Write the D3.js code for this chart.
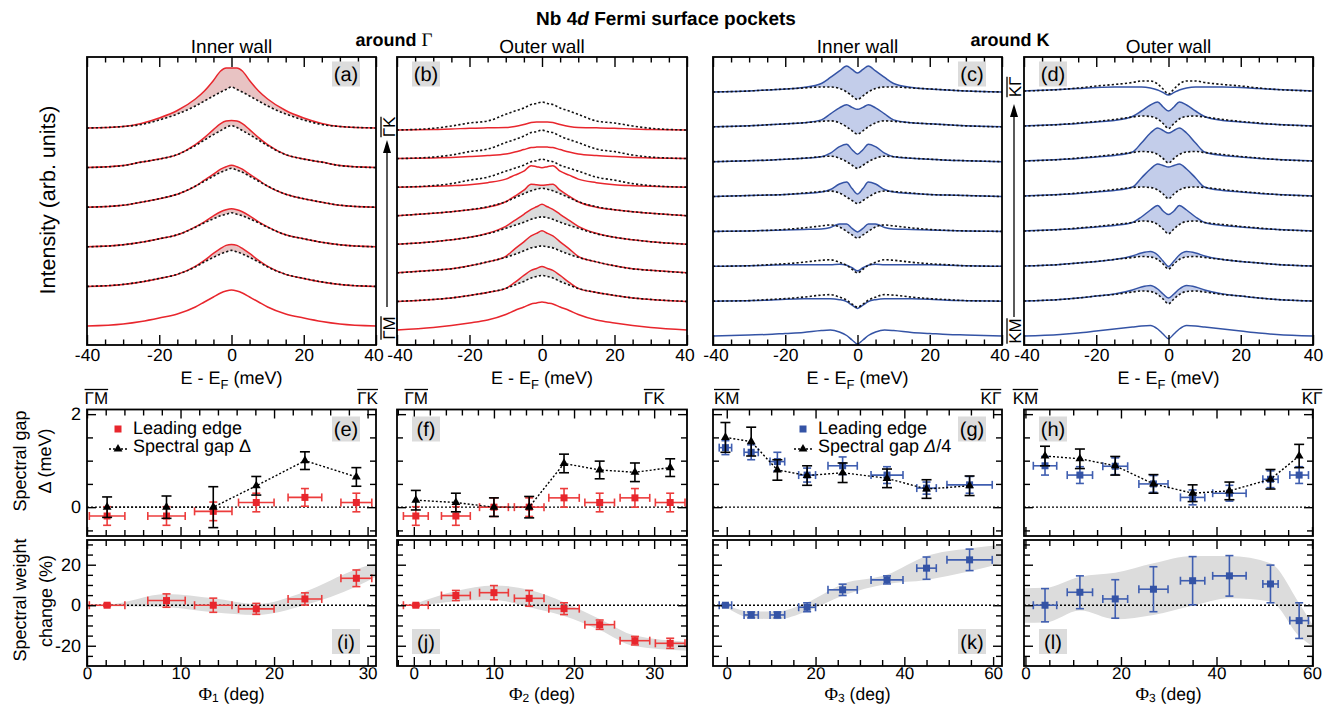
<!DOCTYPE html>
<html>
<head>
<meta charset="utf-8">
<script src="https://cdn.jsdelivr.net/npm/d3@7"></script>
<style>
  body { margin: 0; background: #fff; }
  svg { display: block; }
</style>
</head>
<body>
<script>
// ======================= data =======================
// Symmetrized EDCs: intensities (arb. units, relative to the E = ±40 meV tail)
// listed on the E >= 0 half of the energy grid; curves are listed bottom to top.
const energyGrid = [0, 1.5, 3, 5, 7.5, 10, 15, 20, 25, 30, 40];

// (a) inner wall around Γ — superconducting (solid) / normal state (dotted)
const edcInnerGammaSC = [
  [36, 35, 33, 29, 24, 19, 12, 8, 4.5, 2, 0],
  [42, 41, 38, 33, 26, 20, 12, 8, 4.5, 2, 0],
  [38, 37, 35, 31, 25, 20, 12, 8, 4.5, 2, 0],
  [42, 40.5, 38, 33, 27, 21, 13, 8.5, 5, 2, 0],
  [47, 46.5, 44, 38, 30, 23, 13, 8.5, 5.5, 2, 0],
  [60, 60, 57, 47.5, 37, 29, 17.5, 10, 4.5, 1.5, 0]
];
const edcInnerGammaN = [
  null,
  [36, 34.5, 32.5, 29, 24.5, 19.5, 12, 8, 4.5, 2, 0],
  [34, 32.5, 31, 28, 24, 19.5, 12, 8, 4.5, 2, 0],
  [39, 37, 35, 31, 26, 21, 13, 8.5, 5, 2, 0],
  [42, 40, 37, 33, 27.5, 22, 13, 8.5, 5.5, 2, 0],
  [41, 38.5, 36, 32, 27, 22, 14, 8, 3.5, 1.5, 0]
];

// (b) outer wall around Γ
const edcOuterGammaSC = [
  [28, 27, 26, 23, 19.5, 15.5, 10, 7, 4.5, 2.5, 0],
  [35, 33, 31, 26, 19, 13, 9, 6, 3.5, 2, 0],
  [42, 39.5, 37, 31, 24, 16.5, 11, 7, 4, 2.5, 0],
  [40, 37.5, 35, 30, 24, 18, 11, 7, 4.5, 2.5, 0],
  [30.5, 31, 31.5, 25.5, 19.5, 14, 8.5, 6, 4, 2.5, 0],
  [19.5, 20.5, 21.5, 16, 12, 8, 4.5, 2.5, 1.5, 0.8, 0],
  [11.7, 11.5, 11, 9, 6.5, 4.5, 3, 2, 1.2, 0.7, 0],
  [8, 8, 7.5, 5.5, 3.5, 2.5, 2.2, 1.8, 1, 0.5, 0]
];
const edcOuterGammaN = [
  null,
  [26, 25, 23.5, 20, 16.5, 13, 9, 6, 3.5, 2, 0],
  [27, 26, 25, 22, 18.5, 15.5, 11, 7, 4, 2.5, 0],
  [27.5, 26.5, 25, 22, 19, 16, 10.5, 7, 4.5, 2.5, 0],
  [27.5, 26.5, 25, 22, 18, 14, 9, 6, 4, 2.5, 0],
  [28, 26.5, 25.5, 22, 19, 16, 10, 7, 3.5, 1.5, 0],
  [28.5, 27, 26, 22.5, 19, 16, 9.5, 7, 3.5, 1.5, 0],
  [28, 26.5, 25.5, 22, 19, 15.7, 9, 7, 4, 1.7, 0]
];

// (c) inner wall around K
const edcInnerKSC = [
  [-8, -4, 0.5, 4, 6, 5.5, 3.5, 2.5, 1.5, 1, 0],
  [-7.3, -4, -0.5, 1.5, 2.5, 2.5, 2.5, 2, 1, 0.5, 0],
  [-4.5, -1.5, 1, 2, 1.5, 1.5, 1.5, 1.5, 1, 0.5, 0],
  [-0.5, 3, 7.5, 7.5, 4, 2.5, 2, 1.5, 1, 0.5, 0],
  [2.5, 8, 14.5, 12.5, 7, 4.5, 3, 2, 1.5, 1, 0],
  [7.5, 12, 17.5, 15, 8.5, 5, 3.5, 2.5, 1.5, 1, 0],
  [17.5, 19.5, 22, 19, 13, 7, 4, 3, 2, 1, 0],
  [19, 22.5, 26, 21, 14.5, 8.5, 4.5, 3, 2, 1, 0]
];
const edcInnerKN = [
  null,
  [-6, -3, 1, 4, 6.5, 6, 4, 2.5, 1.5, 0.5, 0],
  [-6.5, -3, 1, 4, 6.5, 6, 4, 2.5, 1.5, 0.5, 0],
  [-6.7, -3.5, 0, 4.5, 6.5, 5.5, 3.5, 2, 1, 0.5, 0],
  [-7, -4, -0.5, 3.5, 5.5, 5, 3.5, 2, 1.5, 1, 0],
  [-6.7, -3.5, 0, 3.5, 5.5, 5, 3.5, 2.5, 1.5, 1, 0],
  [-7.3, -4, 0, 4, 6, 5.5, 4, 3, 2, 1, 0],
  [-7.5, -4, 0, 3.5, 5, 5, 4, 3, 2, 1, 0]
];

// (d) outer wall around K
const edcOuterKSC = [
  [-2.7, 2, 7, 10.5, 10, 9, 7, 5, 3, 1.5, 0],
  [3, 7, 12, 15.5, 14, 11, 7, 5, 3, 1.5, 0],
  [-0.5, 5, 11, 14.5, 13, 10, 6.5, 4.5, 3, 1.5, 0],
  [16.5, 20, 25.5, 21, 14, 8.5, 5.5, 4, 2.5, 1.5, 0],
  [29, 30.5, 32, 27, 18, 9, 5.5, 4, 2.5, 1.5, 0],
  [28, 30.5, 33, 28, 18, 9, 5.5, 4, 2.5, 1.5, 0],
  [15, 19, 24, 21, 15, 9.5, 5.5, 4, 2.5, 1.5, 0],
  [-4, -1.5, 1, 3, 4, 4, 4, 3.5, 2.5, 1.5, 0]
];
const edcOuterKN = [
  null,
  [-2.7, 2, 6.5, 9.5, 10, 9, 6.5, 5, 3, 1.5, 0],
  [-3, 2, 6.5, 9, 9.5, 8.5, 6.5, 4.5, 3, 1.5, 0],
  [-2.7, 2, 6.5, 9.5, 10, 8.5, 6.5, 4.5, 3, 1.5, 0],
  [-2.7, 2, 6, 8.5, 9, 8.5, 6.5, 4.5, 3, 1.5, 0],
  [-2, 2.5, 6.5, 9, 9.5, 8.5, 6.5, 4.5, 3, 1.5, 0],
  [-2.5, 2.5, 7, 9.5, 10, 9, 6.5, 4.5, 3, 1.5, 0],
  [-3, 2, 7, 10, 10, 8.5, 6.5, 5, 3, 1.5, 0]
];

// (e)/(i) inner wall around Γ versus Φ1
const phi1 = [2.15, 8.5, 13.5, 18.1, 23.3, 28.8];
const phi1Err = [1.9, 2.0, 2.0, 1.9, 1.8, 1.65];
const leadEdge1 = [-0.19, -0.19, -0.09, 0.1, 0.21, 0.1];
const leadEdge1Err = [0.2, 0.2, 0.2, 0.2, 0.19, 0.2];
const gap1 = [0, 0, 0, 0.46, 1.0, 0.65];
const gap1Err = [0.22, 0.24, 0.44, 0.2, 0.19, 0.2];
const weight1 = [0, 2.3, 0, -1.8, 3.1, 13.3];
const weight1Err = [0.6, 3.3, 3.5, 2.7, 3.0, 4.1];
const band1Phi = [0.8, 2.15, 8.5, 13.5, 18.1, 23.3, 28.8, 30.9];
const band1Hi = [0.5, 0.5, 5.6, 3.4, 0.6, 6.7, 17.8, 20.7];
const band1Lo = [-0.5, -0.5, -1.0, -3.5, -4.8, 0.1, 9.2, 14.1];

// (f)/(j) outer wall around Γ versus Φ2
const phi2 = [0.25, 5.25, 10, 14.4, 18.75, 23.2, 27.6, 32];
const phi2Err = [1.55, 1.8, 1.8, 1.85, 1.9, 1.85, 1.85, 1.85];
const leadEdge2 = [-0.19, -0.19, 0, 0, 0.2, 0.1, 0.2, 0.1];
const leadEdge2Err = [0.2, 0.2, 0.2, 0.2, 0.2, 0.2, 0.2, 0.2];
const gap2 = [0.15, 0.1, 0, 0, 0.94, 0.8, 0.75, 0.85];
const gap2Err = [0.21, 0.2, 0.2, 0.23, 0.2, 0.19, 0.2, 0.19];
const weight2 = [0, 4.8, 6.2, 3.4, -1.7, -9.6, -17.5, -18.8];
const weight2Err = [0.6, 2.5, 3.5, 3.9, 2.9, 2.3, 2.1, 2.5];
const band2Phi = [0.25, 5.25, 10, 14.4, 18.75, 23.2, 27.6, 34.1];
const band2Hi = [0.8, 7, 9.8, 7.6, 1.5, -6.8, -15, -18];
const band2Lo = [-0.8, 2, 2.6, -1, -5.3, -12.2, -20.3, -22.5];

// (g)/(k) inner wall around K versus Φ3 (gap plotted as Δ/4)
const phi3In = [-0.3, 5.5, 11.4, 18.1, 26.1, 36.1, 45, 54.7];
const phi3InErr = [1.4, 1.6, 1.65, 1.9, 3.3, 3.6, 2.2, 5.1];
const leadEdge3In = [1.28, 1.18, 0.98, 0.69, 0.89, 0.69, 0.41, 0.48];
const leadEdge3InErr = [0.15, 0.16, 0.2, 0.15, 0.19, 0.18, 0.13, 0.18];
const gapQuarter3In = [1.5, 1.41, 0.8, 0.68, 0.74, 0.62, 0.39, 0.46];
const gapQuarter3InErr = [0.32, 0.31, 0.22, 0.21, 0.21, 0.2, 0.2, 0.21];
const weight3In = [0, -4.8, -4.8, -1, 7.6, 12.5, 18.3, 22.4];
const weight3InErr = [0.6, 1.5, 1.5, 2.2, 2.8, 2, 5.5, 5.3];
const band3InPhi = [-0.45, 5.6, 11.4, 18, 26.2, 36, 45, 54.5, 62];
const band3InHi = [0.5, -3.1, -3.1, 1.3, 10.5, 15, 24.3, 28, 29.8];
const band3InLo = [-0.5, -6.4, -6.9, -3.1, 4.8, 10.5, 12.5, 16.6, 20.7];

// (h)/(l) outer wall around K versus Φ3
const phi3Out = [4.1, 11.4, 18.8, 26.8, 35.0, 42.7, 51.3, 57.3];
const phi3OutErr = [2.45, 2.65, 2.6, 3.05, 2.55, 3.5, 1.6, 1.95];
const leadEdge3Out = [0.89, 0.69, 0.88, 0.5, 0.21, 0.3, 0.6, 0.69];
const leadEdge3OutErr = [0.2, 0.18, 0.18, 0.18, 0.16, 0.17, 0.18, 0.18];
const gap3Out = [1.1, 1.04, 0.89, 0.5, 0.3, 0.35, 0.6, 1.1];
const gap3OutErr = [0.21, 0.21, 0.2, 0.2, 0.18, 0.19, 0.21, 0.25];
const weight3Out = [0, 6.4, 3.1, 7.9, 12.1, 14.5, 10.5, -7.6];
const weight3OutErr = [8.2, 8.1, 9.5, 11.1, 11.9, 10, 9.3, 8.8];
const band3OutPhi = [-0.3, 4.1, 11.4, 18.8, 26.8, 35.0, 42.7, 51.3, 57.3, 60.2];
const band3OutHi = [8.4, 8.6, 14.1, 16, 20.7, 24.3, 24.3, 20.7, 1, -10];
const band3OutLo = [-8.6, -8.5, -2.6, -6.9, -4.8, -0.3, 3.4, 1.8, -15.2, -20.4];

// Axis tick values
const energyTicksMajor = [-40, -20, 0, 20, 40];
const energyTicksMinor = d3.range(-35, 40, 5).filter(v => v % 20 !== 0);
const gapTicksMajor = [0, 2];
const gapTicksMinor = [-0.5, 0.5, 1, 1.5];
const weightTicksMajor = [-20, 0, 20];
const weightTicksMinor = [-25, -15, -10, -5, 5, 10, 15, 25, 30];

// ======================= styling =======================
const FONT = "'Liberation Sans', Arial, Helvetica, sans-serif";
const SERIF = "'Liberation Serif', 'Times New Roman', serif";
const RED = "#e8262d", RED_ERR = "#ec3c3c", RED_FILL = "#e8c3c3";
const BLUE = "#3453a5", BLUE_ERR = "#3f5eb0", BLUE_FILL = "#c3cdea";
const GREY = "#dcdcdc";

const svg = d3.select("body").append("svg")
  .attr("width", 1331).attr("height", 705)
  .attr("font-family", FONT)
  .attr("text-rendering", "geometricPrecision");

const cols = [[87, 376], [397, 687], [713, 1002], [1024, 1313]];
const TOP = [57, 345], MID = [409.5, 536], BOT = [540, 666];

// mirror the E >= 0 half onto negative energies
function symmetrize(vals) {
  const pos = energyGrid.map((e, i) => [e, vals[i]]);
  const neg = pos.slice(1).map(([e, v]) => [-e, v]).reverse();
  return neg.concat(pos);
}

function styleAxis(a, fontSize) {
  a.select(".domain").remove();
  a.attr("font-family", FONT).attr("font-size", fontSize || 18);
  a.selectAll(".tick line").attr("stroke", "#000").attr("stroke-width", 1.4);
  a.selectAll(".tick text").attr("fill", "#000");
  return a;
}

function hAxis(scale, y, side, ticks, len, labels, pad, fontSize) {
  const ax = (side === "bottom" ? d3.axisBottom(scale) : d3.axisTop(scale))
    .tickValues(ticks).tickSizeInner(-len).tickSizeOuter(0).tickPadding(pad == null ? 5 : pad)
    .tickFormat(labels ? (d => String(d)) : "");
  const a = svg.append("g").attr("transform", `translate(0,${y})`).call(ax);
  return styleAxis(a, fontSize);
}

function vAxis(scale, x, side, ticks, len, labels) {
  const ax = (side === "left" ? d3.axisLeft(scale) : d3.axisRight(scale))
    .tickValues(ticks).tickSizeInner(-len).tickSizeOuter(0).tickPadding(6)
    .tickFormat(labels ? (d => String(d)) : "");
  const a = svg.append("g").attr("transform", `translate(${x},0)`).call(ax);
  return styleAxis(a);
}

function frame(x0, x1, y0, y1) {
  svg.append("rect").attr("x", x0).attr("y", y0)
    .attr("width", x1 - x0).attr("height", y1 - y0)
    .attr("fill", "none").attr("stroke", "#000").attr("stroke-width", 1.8);
}

function tag(x, y, txt) {
  svg.append("rect").attr("x", x).attr("y", y).attr("width", 28).attr("height", 25).attr("fill", GREY);
  svg.append("text").attr("x", x + 14).attr("y", y + 19.5).attr("text-anchor", "middle")
    .attr("font-size", 20).text(txt);
}

// text with a bar over it (high-symmetry directions)
function barLabel(x, y, txt, rotated) {
  const g = svg.append("g")
    .attr("transform", `translate(${x},${y})` + (rotated ? " rotate(-90)" : ""));
  const t = g.append("text").attr("text-anchor", "middle").attr("font-size", 17).text(txt);
  const w = t.node().getComputedTextLength();
  g.append("line").attr("x1", -w / 2).attr("x2", w / 2).attr("y1", -14).attr("y2", -14)
    .attr("stroke", "#000").attr("stroke-width", 1.3);
}

function energyLabel(cx) {
  const t = svg.append("text").attr("x", cx).attr("y", 383.5).attr("text-anchor", "middle").attr("font-size", 18);
  t.append("tspan").text("E - E");
  t.append("tspan").attr("font-size", 13).attr("dy", 5).text("F");
  t.append("tspan").attr("dy", -5).text(" (meV)");
}

function phiLabel(cx, sub) {
  const t = svg.append("text").attr("x", cx).attr("y", 699.5).attr("text-anchor", "middle").attr("font-size", 17.5);
  t.append("tspan").attr("font-family", SERIF).attr("font-size", 18.5).text("Φ");
  t.append("tspan").attr("font-size", 12).attr("dy", 2.5).text(sub);
  t.append("tspan").attr("dy", -2.5).text(" (deg)");
}

// ======================= EDC stacks =======================
const topPanels = [
  { col: 0, sc: edcInnerGammaSC, n: edcInnerGammaN, color: RED, fill: RED_FILL, base: 19, step: 39.6, title: "Inner wall", tag: "(a)", tagRight: true },
  { col: 1, sc: edcOuterGammaSC, n: edcOuterGammaN, color: RED, fill: GREY, base: 15, step: 28.57, title: "Outer wall", tag: "(b)", tagRight: false },
  { col: 2, sc: edcInnerKSC, n: edcInnerKN, color: BLUE, fill: BLUE_FILL, base: 9, step: 34.86, title: "Inner wall", tag: "(c)", tagRight: true },
  { col: 3, sc: edcOuterKSC, n: edcOuterKN, color: BLUE, fill: BLUE_FILL, base: 9, step: 35, title: "Outer wall", tag: "(d)", tagRight: false }
];

topPanels.forEach(p => {
  const [x0, x1] = cols[p.col];
  const x = d3.scaleLinear().domain([-40, 40]).range([x0, x1]);
  const y = d3.scaleLinear().domain([0, 288]).range([TOP[1], TOP[0]]);
  const g = svg.append("g");
  const line = d3.line().x(d => x(d[0])).y(d => y(d[1])).curve(d3.curveMonotoneX);
  const area = d3.area().x(d => x(d.e)).y0(d => y(d.lo)).y1(d => y(d.hi)).curve(d3.curveMonotoneX);

  p.sc.forEach((vals, k) => {
    const off = p.base + k * p.step;
    const sc = symmetrize(vals).map(([e, v]) => [e, v + off]);
    let nrm = null;
    if (p.n[k]) {
      nrm = symmetrize(p.n[k]).map(([e, v]) => [e, v + off]);
      const rows = sc.map((d, i) => ({ e: d[0], lo: nrm[i][1], hi: Math.max(d[1], nrm[i][1]) }));
      g.append("path").attr("d", area(rows)).attr("fill", p.fill);
    }
    g.append("path").attr("d", line(sc)).attr("fill", "none")
      .attr("stroke", p.color).attr("stroke-width", 1.5);
    if (nrm) {
      g.append("path").attr("d", line(nrm)).attr("fill", "none")
        .attr("stroke", "#111").attr("stroke-width", 1.6).attr("stroke-dasharray", "2.2,2.2");
    }
  });

  hAxis(x, TOP[1], "bottom", energyTicksMinor, 5.5, false);
  const lab = hAxis(x, TOP[1], "bottom", energyTicksMajor, 10, true, 4, 17.5);
  // keep the end labels of neighbouring panels apart
  lab.selectAll(".tick text").attr("dx", d => (d === 40 && p.col < 3) ? -2.5 : (d === -40 && p.col > 0) ? 2.5 : 0);
  hAxis(x, TOP[0], "top", energyTicksMinor, 5.5, false);
  hAxis(x, TOP[0], "top", energyTicksMajor, 10, false);
  frame(x0, x1, TOP[0], TOP[1]);

  tag(p.tagRight ? x1 - 44 : x0 + 15, TOP[0] + 4.5, p.tag);
  svg.append("text").attr("x", (x0 + x1) / 2).attr("y", 53).attr("text-anchor", "middle")
    .attr("font-size", 19).text(p.title);
  energyLabel((x0 + x1) / 2);
});

// momentum-direction arrows between the EDC stacks
function dirArrow(x, yTail, yTip) {
  svg.append("line").attr("x1", x).attr("x2", x).attr("y1", yTail).attr("y2", yTip + 10)
    .attr("stroke", "#000").attr("stroke-width", 1.3);
  svg.append("path").attr("d", `M${x},${yTip} L${x - 4},${yTip + 13} L${x + 4},${yTip + 13} Z`).attr("fill", "#000");
}
dirArrow(387, 307, 140);
barLabel(395, 127, "ΓK", true);
barLabel(395, 328, "ΓM", true);
dirArrow(1014, 317, 104);
barLabel(1021, 87, "KΓ", true);
barLabel(1021, 331, "KM", true);

// ======================= gap and spectral-weight panels =======================
const gapY = d3.scaleLinear().domain([-0.62, 2.1]).range([MID[1], MID[0]]);
const wY = d3.scaleLinear().domain([-30, 32.2]).range([BOT[1], BOT[0]]);

const lowerPanels = [
  { col: 0, dom: [0, 30.9], minor: d3.range(2, 31, 2).filter(v => v % 10), major: [0, 10, 20, 30], sub: "1",
    phi: phi1, dphi: phi1Err, lead: leadEdge1, dlead: leadEdge1Err, gap: gap1, dgap: gap1Err,
    w: weight1, dw: weight1Err, bandPhi: band1Phi, bandHi: band1Hi, bandLo: band1Lo,
    color: RED, errColor: RED_ERR, ends: ["ΓM", "ΓK"], endPhi: [1, 30], tags: ["(e)", "(i)"], tagRight: [true, true] },
  { col: 1, dom: [-2.1, 34.1], minor: d3.range(-2, 35, 2).filter(v => v % 10), major: [0, 10, 20, 30], sub: "2",
    phi: phi2, dphi: phi2Err, lead: leadEdge2, dlead: leadEdge2Err, gap: gap2, dgap: gap2Err,
    w: weight2, dw: weight2Err, bandPhi: band2Phi, bandHi: band2Hi, bandLo: band2Lo,
    color: RED, errColor: RED_ERR, ends: ["ΓM", "ΓK"], endPhi: [0.3, 30], tags: ["(f)", "(j)"], tagRight: [false, false] },
  { col: 2, dom: [-3.1, 62], minor: d3.range(5, 61, 5).filter(v => v % 20), major: [0, 20, 40, 60], sub: "3",
    phi: phi3In, dphi: phi3InErr, lead: leadEdge3In, dlead: leadEdge3InErr, gap: gapQuarter3In, dgap: gapQuarter3InErr,
    w: weight3In, dw: weight3InErr, bandPhi: band3InPhi, bandHi: band3InHi, bandLo: band3InLo,
    color: BLUE, errColor: BLUE_ERR, ends: ["KM", "KΓ"], endPhi: [0, 59.5], tags: ["(g)", "(k)"], tagRight: [true, true] },
  { col: 3, dom: [-0.3, 60.2], minor: d3.range(5, 61, 5).filter(v => v % 20), major: [0, 20, 40, 60], sub: "3",
    phi: phi3Out, dphi: phi3OutErr, lead: leadEdge3Out, dlead: leadEdge3OutErr, gap: gap3Out, dgap: gap3OutErr,
    w: weight3Out, dw: weight3OutErr, bandPhi: band3OutPhi, bandHi: band3OutHi, bandLo: band3OutLo,
    color: BLUE, errColor: BLUE_ERR, ends: ["KM", "KΓ"], endPhi: [0, 60], tags: ["(h)", "(l)"], tagRight: [false, false] }
];

function errorBars(g, x, y, xs, vs, dvs, dxs, color, capV, capH, width) {
  xs.forEach((px, i) => {
    const cx = x(px), cy = y(vs[i]);
    if (dvs) {
      const y1 = y(vs[i] - dvs[i]), y2 = y(vs[i] + dvs[i]);
      g.append("line").attr("x1", cx).attr("x2", cx).attr("y1", y1).attr("y2", y2);
      [y1, y2].forEach(yy => g.append("line").attr("x1", cx - capV).attr("x2", cx + capV).attr("y1", yy).attr("y2", yy));
    }
    if (dxs) {
      const x1 = x(px - dxs[i]), x2 = x(px + dxs[i]);
      g.append("line").attr("x1", x1).attr("x2", x2).attr("y1", cy).attr("y2", cy);
      [x1, x2].forEach(xx => g.append("line").attr("x1", xx).attr("x2", xx).attr("y1", cy - capH).attr("y2", cy + capH));
    }
  });
  g.selectAll("line").attr("stroke", color).attr("stroke-width", width);
}

function squares(g, x, y, xs, vs, color, size) {
  g.selectAll(null).data(xs).join("rect")
    .attr("x", (d) => x(d) - size / 2).attr("y", (d, i) => y(vs[i]) - size / 2)
    .attr("width", size).attr("height", size).attr("fill", color);
}

const triangle = d3.symbol().type(d3.symbolTriangle).size(34);

lowerPanels.forEach(p => {
  const [x0, x1] = cols[p.col];
  const x = d3.scaleLinear().domain(p.dom).range([x0, x1]);
  const clipId = "clip" + p.col;
  svg.append("clipPath").attr("id", clipId).append("rect")
    .attr("x", x0).attr("y", BOT[0]).attr("width", x1 - x0).attr("height", BOT[1] - BOT[0]);

  // ---- spectral gap (middle row)
  const gm = svg.append("g");
  gm.append("line").attr("x1", x0).attr("x2", x1).attr("y1", gapY(0)).attr("y2", gapY(0))
    .attr("stroke", "#000").attr("stroke-width", 1.4).attr("stroke-dasharray", "2,2");
  errorBars(gm.append("g"), x, gapY, p.phi, p.lead, p.dlead, p.dphi, p.errColor, 4, 4, 1.6);
  squares(gm.append("g"), x, gapY, p.phi, p.lead, p.color, 7);
  gm.append("path")
    .attr("d", d3.line().x((d) => x(d)).y((d, i) => gapY(p.gap[i]))(p.phi))
    .attr("fill", "none").attr("stroke", "#000").attr("stroke-width", 1.4).attr("stroke-dasharray", "2,2");
  errorBars(gm.append("g"), x, gapY, p.phi, p.gap, p.dgap, null, "#000", 5, 0, 1.6);
  gm.append("g").selectAll("path").data(p.phi).join("path")
    .attr("transform", (d, i) => `translate(${x(d)},${gapY(p.gap[i])})`)
    .attr("d", triangle).attr("fill", "#000");

  hAxis(x, MID[1], "bottom", p.minor, 6, false);
  hAxis(x, MID[1], "bottom", p.major, 9, false);
  hAxis(x, MID[0], "top", p.minor, 6, false);
  hAxis(x, MID[0], "top", p.major, 9, false);
  vAxis(gapY, x0, "left", gapTicksMinor, 6, false);
  vAxis(gapY, x0, "left", gapTicksMajor, 9, p.col === 0);
  vAxis(gapY, x1, "right", gapTicksMinor, 6, false);
  vAxis(gapY, x1, "right", gapTicksMajor, 9, false);
  frame(x0, x1, MID[0], MID[1]);
  tag(p.tagRight[0] ? x1 - 44 : x0 + 15, MID[0] + 7, p.tags[0]);
  barLabel(x(p.endPhi[0]), 403.5, p.ends[0], false);
  barLabel(x(p.endPhi[1]), 403.5, p.ends[1], false);

  // ---- spectral weight change (bottom row)
  const gb = svg.append("g");
  const bandRows = p.bandPhi.map((v, i) => ({ phi: v, lo: p.bandLo[i], hi: p.bandHi[i] }));
  gb.append("path").attr("clip-path", `url(#${clipId})`)
    .attr("d", d3.area().x(d => x(d.phi)).y0(d => wY(d.lo)).y1(d => wY(d.hi)).curve(d3.curveMonotoneX)(bandRows))
    .attr("fill", GREY);
  gb.append("line").attr("x1", x0).attr("x2", x1).attr("y1", wY(0)).attr("y2", wY(0))
    .attr("stroke", "#000").attr("stroke-width", 1.4).attr("stroke-dasharray", "2,2");
  errorBars(gb.append("g"), x, wY, p.phi, p.w, p.dw, p.dphi, p.errColor, 4, 4, 1.6);
  squares(gb.append("g"), x, wY, p.phi, p.w, p.color, 7);

  hAxis(x, BOT[1], "bottom", p.minor, 6, false);
  hAxis(x, BOT[1], "bottom", p.major, 9, true, 1, 17);
  hAxis(x, BOT[0], "top", p.minor, 6, false);
  hAxis(x, BOT[0], "top", p.major, 9, false);
  vAxis(wY, x0, "left", weightTicksMinor, 6, false);
  vAxis(wY, x0, "left", weightTicksMajor, 9, p.col === 0);
  vAxis(wY, x1, "right", weightTicksMinor, 6, false);
  vAxis(wY, x1, "right", weightTicksMajor, 9, false);
  frame(x0, x1, BOT[0], BOT[1]);
  tag(p.tagRight[1] ? x1 - 44 : x0 + 15, BOT[1] - 37, p.tags[1]);
  phiLabel((x0 + x1) / 2, p.sub);
});

// ---- legends
function legend(x, y, color, gapText) {
  svg.append("rect").attr("x", x - 3.5).attr("y", y - 3.5).attr("width", 7).attr("height", 7).attr("fill", color);
  svg.append("text").attr("x", x + 15).attr("y", y + 5).attr("font-size", 18).text("Leading edge");
  svg.append("line").attr("x1", x - 9).attr("x2", x + 9).attr("y1", y + 20).attr("y2", y + 20)
    .attr("stroke", "#000").attr("stroke-width", 1.4).attr("stroke-dasharray", "2,2");
  svg.append("path").attr("transform", `translate(${x},${y + 20})`).attr("d", triangle).attr("fill", "#000");
  const t = svg.append("text").attr("x", x + 15).attr("y", y + 23).attr("font-size", 18);
  t.append("tspan").text("Spectral gap ");
  gapText(t);
}
legend(118, 429, RED, t => t.append("tspan").text("Δ"));
legend(803, 429, BLUE, t => { t.append("tspan").attr("font-style", "italic").text("Δ"); t.append("tspan").text("/4"); });

// ======================= titles and axis titles =======================
const title = svg.append("text").attr("x", 666).attr("y", 25).attr("text-anchor", "middle")
  .attr("font-size", 19).attr("font-weight", "bold");
title.append("tspan").text("Nb 4");
title.append("tspan").attr("font-style", "italic").text("d");
title.append("tspan").text(" Fermi surface pockets");

function around(cx, sym, serif) {
  const t = svg.append("text").attr("x", cx).attr("y", 46).attr("text-anchor", "middle")
    .attr("font-size", 18).attr("font-weight", "bold");
  t.append("tspan").text("around ");
  const s = t.append("tspan").text(sym);
  if (serif) s.attr("font-family", SERIF).attr("font-weight", "normal").attr("font-size", 19);
}
around(394, "Γ", true);
around(1010, "K", false);

function yTitle(x, y, txt, size) {
  svg.append("text").attr("transform", `translate(${x},${y}) rotate(-90)`)
    .attr("text-anchor", "middle").attr("font-size", size || 18).text(txt);
}
yTitle(55, 200, "Intensity (arb. units)", 21.5);
yTitle(26, 461, "Spectral gap");
yTitle(51, 461, "Δ (meV)");
yTitle(26, 600, "Spectral weight");
yTitle(52, 601, "change (%)");
</script>
</body>
</html>
